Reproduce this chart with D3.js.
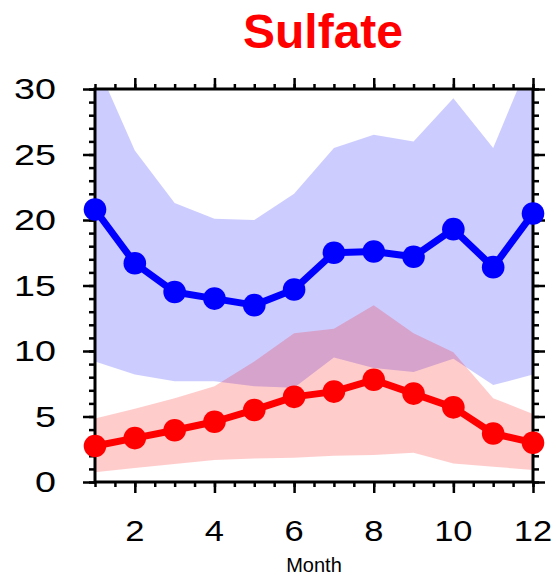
<!DOCTYPE html>
<html>
<head>
<meta charset="utf-8">
<script src="https://cdn.jsdelivr.net/npm/d3@7"></script>
<style>
  html, body { margin: 0; padding: 0; background: #fff; }
  svg { display: block; }
  text { font-family: "Liberation Sans", Arial, Helvetica, sans-serif; }
</style>
</head>
<body>
<svg id="chart" width="556" height="577"></svg>
<script>
// Monthly sulfate: two groups, each with a mean line and a spread band
const months = [1, 2, 3, 4, 5, 6, 7, 8, 9, 10, 11, 12];

const blueMean  = [20.8, 16.7, 14.5, 14.0, 13.5, 14.7, 17.5, 17.6, 17.2, 19.3, 16.4, 20.5];
const blueUpper = [32.2, 25.3, 21.3, 20.1, 20.0, 22.0, 25.5, 26.5, 26.0, 29.3, 25.5, 32.8];
const blueLower = [9.2, 8.2, 7.7, 7.7, 7.3, 7.2, 9.5, 8.7, 8.4, 9.4, 7.4, 8.2];

const redMean  = [2.75, 3.35, 3.95, 4.6, 5.5, 6.5, 6.9, 7.8, 6.75, 5.7, 3.7, 3.0];
const redUpper = [4.85, 5.6, 6.4, 7.3, 9.2, 11.35, 11.7, 13.5, 11.35, 9.9, 6.4, 5.2];
const redLower = [0.74, 1.07, 1.37, 1.68, 1.8, 1.85, 2.0, 2.06, 2.24, 1.42, 1.17, 0.92];

const xMajorTicks = [2, 4, 6, 8, 10, 12];
const yMajorTicks = [0, 5, 10, 15, 20, 25, 30];
const titleText = "Sulfate";
const xAxisTitle = "Month";

(function () {
  const svg = d3.select("#chart");
  const pl = 95, pr = 533, pt = 89, pb = 482;

  const x = d3.scaleLinear().domain([1, 12]).range([pl, pr]);
  const y = d3.scaleLinear().domain([0, 30]).range([pb, pt]);

  svg.append("defs").append("clipPath").attr("id", "plotClip")
    .append("rect").attr("x", pl).attr("y", pt)
    .attr("width", pr - pl).attr("height", pb - pt);

  const area = (lo, hi) => d3.area()
    .x((d, i) => x(months[i]))
    .y0((d, i) => y(lo[i]))
    .y1((d, i) => y(hi[i]));

  const bands = svg.append("g").attr("clip-path", "url(#plotClip)");
  bands.append("path").datum(months).attr("d", area(blueLower, blueUpper))
    .attr("fill", "blue").attr("fill-opacity", 0.2);
  bands.append("path").datum(months).attr("d", area(redLower, redUpper))
    .attr("fill", "red").attr("fill-opacity", 0.2);

  // frame
  svg.append("rect").attr("x", pl).attr("y", pt)
    .attr("width", pr - pl).attr("height", pb - pt)
    .attr("fill", "none").attr("stroke", "#000").attr("stroke-width", 3);

  // ticks on all four sides, pointing outward
  const xMinor = d3.range(1, 12.001, 0.5);
  const yMinor = d3.range(0, 30.001, 1);
  function addAxis(gen, transform) {
    svg.append("g").attr("transform", transform).call(gen)
      .call(g => g.select(".domain").remove())
      .call(g => g.selectAll("line").attr("stroke", "#000").attr("stroke-width", 2.5))
      .call(g => g.selectAll("text").remove());
  }
  addAxis(d3.axisBottom(x).tickValues(xMinor).tickSize(5), `translate(0,${pb})`);
  addAxis(d3.axisBottom(x).tickValues(xMajorTicks).tickSize(11), `translate(0,${pb})`);
  addAxis(d3.axisTop(x).tickValues(xMinor).tickSize(5), `translate(0,${pt})`);
  addAxis(d3.axisTop(x).tickValues(xMajorTicks).tickSize(11), `translate(0,${pt})`);
  addAxis(d3.axisLeft(y).tickValues(yMinor).tickSize(6), `translate(${pl},0)`);
  addAxis(d3.axisLeft(y).tickValues(yMajorTicks).tickSize(12), `translate(${pl},0)`);
  addAxis(d3.axisRight(y).tickValues(yMinor).tickSize(6), `translate(${pr},0)`);
  addAxis(d3.axisRight(y).tickValues(yMajorTicks).tickSize(12), `translate(${pr},0)`);

  // tick labels
  svg.append("g").selectAll("text").data(yMajorTicks).join("text")
    .attr("transform", d => `translate(56,${y(d)}) scale(1.3,1)`)
    .attr("text-anchor", "end").attr("dy", "0.36em")
    .attr("font-size", 29).attr("fill", "#000")
    .text(d => d);

  svg.append("g").selectAll("text").data(xMajorTicks).join("text")
    .attr("transform", d => `translate(${x(d)},541) scale(1.15,1)`)
    .attr("text-anchor", "middle")
    .attr("font-size", 30).attr("fill", "#000")
    .text(d => d);

  svg.append("text").attr("x", (pl + pr) / 2).attr("y", 572)
    .attr("text-anchor", "middle").attr("font-size", 20).attr("fill", "#000")
    .text(xAxisTitle);

  svg.append("text").attr("x", 323).attr("y", 48)
    .attr("text-anchor", "middle").attr("font-size", 48)
    .attr("font-weight", "bold").attr("fill", "#ff0000")
    .text(titleText);

  // mean lines with markers
  function series(vals, color) {
    const line = d3.line().x((d, i) => x(months[i])).y(d => y(d));
    svg.append("path").datum(vals).attr("d", line)
      .attr("fill", "none").attr("stroke", color).attr("stroke-width", 7)
      .attr("stroke-linejoin", "round");
    svg.append("g").selectAll("circle").data(vals).join("circle")
      .attr("cx", (d, i) => x(months[i])).attr("cy", d => y(d))
      .attr("r", 11.3).attr("fill", color);
  }
  series(blueMean, "#0000ff");
  series(redMean, "#ff0000");
})();
</script>
</body>
</html>
